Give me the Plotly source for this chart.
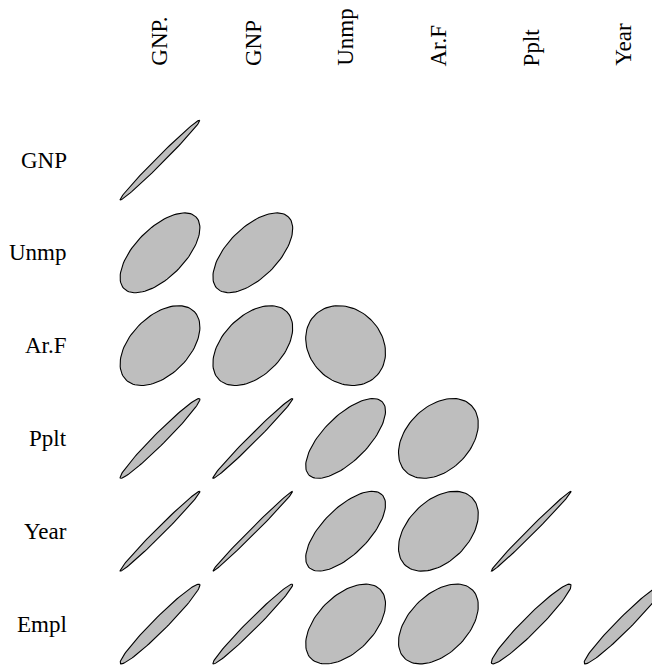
import numpy as np
import plotly.graph_objects as go

# Column labels (top) and row labels (left)
col_labels = ["GNP.", "GNP", "Unmp", "Ar.F", "Pplt", "Year"]
row_labels = ["GNP", "Unmp", "Ar.F", "Pplt", "Year", "Empl"]

# Lower-triangle correlations, one list per row (columns GNP. .. Year)
r_GNP = [0.992]
r_Unmp = [0.621, 0.604]
r_ArF = [0.465, 0.446, -0.177]
r_Pplt = [0.979, 0.991, 0.687, 0.364]
r_Year = [0.991, 0.995, 0.668, 0.417, 0.994]
r_Empl = [0.971, 0.984, 0.502, 0.457, 0.960, 0.971]
rows_r = [r_GNP, r_Unmp, r_ArF, r_Pplt, r_Year, r_Empl]

nrows = len(row_labels)
T = 0.43
a = np.linspace(0, 2 * np.pi, 100)

fig = go.Figure()
for i, rr in enumerate(rows_r, start=1):
    yc = nrows + 1 - i
    for j, r in enumerate(rr, start=1):
        d = np.arccos(r)
        ex = j + T * np.cos(a + d / 2)
        ey = yc + T * np.cos(a - d / 2)
        fig.add_trace(go.Scatter(
            x=ex, y=ey, mode="lines", fill="toself",
            fillcolor="#BEBEBE", line=dict(color="black", width=1.1),
            hoverinfo="skip", showlegend=False))

font = dict(family="Liberation Serif, Times New Roman, serif", size=23, color="black")
ann = []
for i, lab in enumerate(row_labels, start=1):
    ann.append(dict(x=0, y=nrows + 1 - i, text=lab, showarrow=False,
                    xanchor="right", yanchor="middle", font=font,
                    xref="x", yref="y", borderpad=0, xshift=1))
for j, lab in enumerate(col_labels, start=1):
    ann.append(dict(x=j, y=nrows + 1, text=lab, showarrow=False,
                    textangle=-90, xanchor="center", yanchor="bottom",
                    font=font, xref="x", yref="y", borderpad=0))

unit = 92.8
off = 8  # page body margin
W, H = 660 - off, 667 - off
x0 = 160 - off
y0 = 160 - off
fig.update_layout(
    width=W, height=H,
    margin=dict(l=0, r=0, t=0, b=0),
    paper_bgcolor="white", plot_bgcolor="white",
    xaxis=dict(range=[1 - x0 / unit, 1 + (W - x0) / unit], visible=False, fixedrange=True),
    yaxis=dict(range=[nrows - (H - y0) / unit, nrows + y0 / unit], visible=False, fixedrange=True),
    annotations=ann,
)
fig.write_html("out.html")
